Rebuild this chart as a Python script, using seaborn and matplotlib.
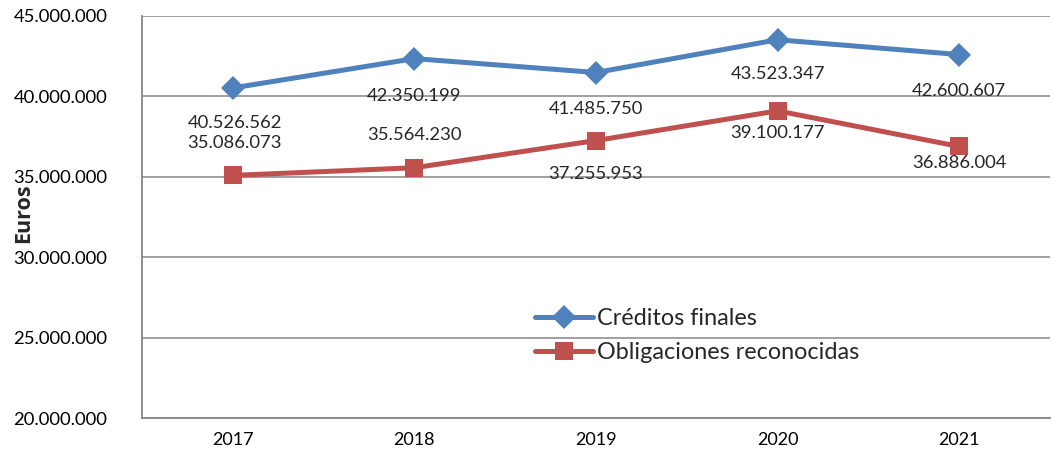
import matplotlib
matplotlib.use("Agg")
import matplotlib.pyplot as plt
import seaborn as sns
import pandas as pd

years = ["2017", "2018", "2019", "2020", "2021"]
creditos = [40526562, 42350199, 41485750, 43523347, 42600607]
obligaciones = [35086073, 35564230, 37255953, 39100177, 36886004]
series_names = ["Créditos finales", "Obligaciones reconocidas"]
y_ticks = [20000000, 25000000, 30000000, 35000000, 40000000, 45000000]

# label offsets in pixels (dx, dy)
cred_off = [(2, -35), (0, -37), (0, -36), (0, -34), (0, -36)]
obl_off = [(2, 32), (0, 33), (0, -33), (0, -22), (0, -17)]

def fmt(v):
    return f"{v:,}".replace(",", ".")

df = pd.DataFrame({
    "Año": years * 2,
    "Euros": creditos + obligaciones,
    "Serie": [series_names[0]] * 5 + [series_names[1]] * 5,
})

sns.set_style("white")
plt.rcParams["font.family"] = ["Lato", "DejaVu Sans"]

fig = plt.figure(figsize=(10.53, 4.61), dpi=100)
ax = fig.add_axes([142 / 1053, 1 - 418 / 461, 908 / 1053, 402 / 461])

palette = {series_names[0]: "#4F81BD", series_names[1]: "#C0504D"}
sns.lineplot(data=df, x="Año", y="Euros", hue="Serie", style="Serie",
             markers={series_names[0]: "D", series_names[1]: "s"},
             dashes=False, palette=palette, linewidth=3.6, markersize=12,
             markeredgewidth=0, ax=ax, sort=False)
for ln in ax.lines:
    if ln.get_marker() == "s":
        ln.set_markersize(13.5)

ax.set_xlim(-0.5, 4.5)
ax.set_ylim(20000000, 45000000)
ax.set_yticks(y_ticks)
ax.set_yticklabels([fmt(t) for t in y_ticks])
ax.grid(axis="y", color="#868686", linewidth=1.1)
ax.grid(axis="x", visible=False)
ax.set_axisbelow(True)
for s in ["top", "right"]:
    ax.spines[s].set_visible(False)
for s in ["left", "bottom"]:
    ax.spines[s].set_color("#868686")
    ax.spines[s].set_linewidth(1.3)
ax.tick_params(axis="y", length=0, pad=25, labelsize=13.3, colors="black")
ax.tick_params(axis="x", length=0, pad=10, labelsize=13, colors="black")
ax.set_xlabel("")
ax.set_ylabel("Euros", fontsize=15.5, fontweight="bold",
              family=["Open Sans", "DejaVu Sans"])
ax.yaxis.set_label_coords(-0.119, 0.51)

for i, v in enumerate(creditos):
    ax.annotate(fmt(v), (i, v), xytext=cred_off[i], textcoords="offset pixels",
                ha="center", va="center", fontsize=13.3)
for i, v in enumerate(obligaciones):
    ax.annotate(fmt(v), (i, v), xytext=obl_off[i], textcoords="offset pixels",
                ha="center", va="center", fontsize=13.3)

handles, labels = ax.get_legend_handles_labels()
ax.legend(handles, labels, loc="center left", bbox_to_anchor=(0.433, 0.205),
          frameon=False, fontsize=16.8, handlelength=2.5, handletextpad=0.15,
          labelspacing=0.55, borderpad=0, borderaxespad=0)

fig.savefig("out.png", dpi=100)
